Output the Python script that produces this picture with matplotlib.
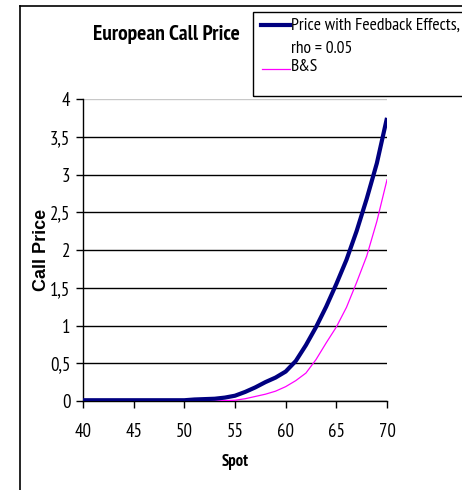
import matplotlib
matplotlib.use("Agg")
import matplotlib.pyplot as plt
from matplotlib.lines import Line2D
from matplotlib.patches import Rectangle
from matplotlib import font_manager

names = {f.name for f in font_manager.fontManager.ttflist}
narrow = None
for cand in ['Liberation Sans Narrow', 'Arial Narrow', 'Arimo Narrow', 'PT Sans Narrow',
             'Archivo Narrow', 'Roboto Condensed', 'Open Sans Condensed']:
    if cand in names:
        narrow = cand
        break
NARROW = [narrow, 'Liberation Sans', 'DejaVu Sans'] if narrow else ['Liberation Sans', 'DejaVu Sans']
REG = ['Liberation Sans', 'DejaVu Sans']
plt.rcParams['font.family'] = NARROW

spot = list(range(40, 71))
feedback = [0.01] * 11 + [0.02, 0.025, 0.03, 0.045, 0.07, 0.12, 0.18, 0.25, 0.31, 0.39,
                          0.53, 0.74, 0.98, 1.25, 1.55, 1.87, 2.25, 2.68, 3.15, 3.75]
bs = [0.0] * 14 + [0.005, 0.01, 0.03, 0.06, 0.09, 0.13, 0.19, 0.27, 0.37, 0.55,
                   0.77, 0.98, 1.24, 1.57, 1.92, 2.38, 2.93]
yticks = [0, 0.5, 1, 1.5, 2, 2.5, 3, 3.5, 4]
ytick_labels = ['0', '0,5', '1', '1,5', '2', '2,5', '3', '3,5', '4']
xticks = [40, 45, 50, 55, 60, 65, 70]

W, H = 462, 490
fig = plt.figure(figsize=(W / 100, H / 100), dpi=100)
ax = fig.add_axes([83 / W, 1 - 401 / H, (387 - 83) / W, (401 - 99) / H])

ax.plot(spot, bs, color='#ff00ff', lw=0.9, zorder=3)
ax.plot(spot, feedback, color='#000080', lw=3.0, zorder=4, solid_capstyle='butt')

ax.set_xlim(40, 70)
ax.set_ylim(0, 4)
ax.set_xticks(xticks)
ax.set_yticks(yticks)
ax.set_yticklabels(ytick_labels)
ax.tick_params(axis='both', direction='out', length=5, width=1, color='black',
               labelsize=13.5)
ax.tick_params(axis='x', pad=11)
ax.tick_params(axis='y', pad=4)
ax.yaxis.grid(True, color='black', lw=1)
gl = ax.yaxis.get_gridlines()
gl[-1].set_color('#c8c8c8')
ax.set_axisbelow(True)
for s in ['top', 'right']:
    ax.spines[s].set_visible(False)
for s in ['left', 'bottom']:
    ax.spines[s].set_color('black')
    ax.spines[s].set_linewidth(1)

fig.text(235 / W, 1 - 462 / H, 'Spot', fontsize=12, fontweight='bold',
         ha='center', va='center')
fig.text(42 / W, 1 - 250 / H, 'Call Price', fontsize=13, fontweight='bold', family=REG,
         ha='center', va='center', rotation=90)

fig.text(166 / W, 1 - 35 / H, 'European Call Price', fontsize=15.5, fontweight='bold',
         ha='center', va='center')

# figure border (chart area)
fig.add_artist(Line2D([20 / W, 20 / W], [0, 1 - 6 / H], color='black', lw=1.2, transform=fig.transFigure))
fig.add_artist(Line2D([20 / W, 1], [1 - 6 / H, 1 - 6 / H], color='black', lw=1.2, transform=fig.transFigure))

# legend box
fig.add_artist(Rectangle((253 / W, 1 - 96 / H), (470 - 253) / W, (96 - 12) / H,
                         transform=fig.transFigure, fill=False, edgecolor='black', lw=1))
fig.add_artist(Line2D([261 / W, 290 / W], [1 - 25 / H, 1 - 25 / H], color='#000080', lw=3,
                      transform=fig.transFigure))
fig.add_artist(Line2D([262 / W, 290 / W], [1 - 69 / H, 1 - 69 / H], color='#ff00ff', lw=0.9,
                      transform=fig.transFigure))
fig.text(291 / W, 1 - 26 / H, 'Price with Feedback Effects,', fontsize=12.6, ha='left', va='center')
fig.text(291 / W, 1 - 49 / H, 'rho = 0.05', fontsize=12.6, ha='left', va='center')
fig.text(291 / W, 1 - 67 / H, 'B&S', fontsize=12.6, ha='left', va='center')

fig.savefig('out.png', dpi=100)
